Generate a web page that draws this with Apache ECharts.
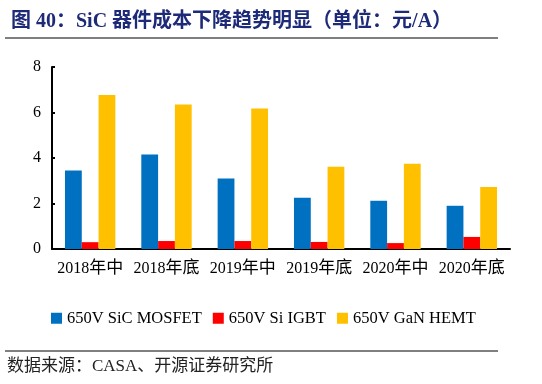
<!DOCTYPE html>
<html><head><meta charset="utf-8">
<script src="https://cdn.jsdelivr.net/npm/echarts@6/dist/echarts.min.js"></script>
<style>html,body{margin:0;padding:0;background:#fff}#c{width:542px;height:384px}</style>
</head><body><div id="c"></div>
<script>
var categories = ['2018年中','2018年底','2019年中','2019年底','2020年中','2020年底'];
var sicMosfet = [3.45, 4.15, 3.1, 2.25, 2.12, 1.9];
var siIgbt = [0.3, 0.35, 0.35, 0.31, 0.26, 0.53];
var ganHemt = [6.77, 6.35, 6.18, 3.62, 3.75, 2.73];
var seriesNames = ['650V SiC MOSFET','650V Si IGBT','650V GaN HEMT'];
var yTicks = [0, 2, 4, 6, 8];

var serif = '"Liberation Serif","Times New Roman","Noto Sans CJK SC",serif';
var chart = echarts.init(document.getElementById('c'));
function bar(name, data, color){
  return {name:name, type:'bar', data:data, barGap:'0%', barCategoryGap:'34%',
    itemStyle:{color:color}};
}
chart.setOption({
  animation:false,
  title:{text:'图 40：SiC 器件成本下降趋势明显（单位：元/A）', left:6, top:7,
    textStyle:{fontFamily:serif, fontWeight:'bold', fontSize:20, color:'#1d2a78'}},
  graphic:[
    {type:'line', shape:{x1:5,y1:38,x2:498,y2:38}, style:{stroke:'#000',lineWidth:1}},
    {type:'line', shape:{x1:5,y1:351,x2:498,y2:351}, style:{stroke:'#000',lineWidth:1}},
    {type:'text', left:7, top:358, style:{text:'数据来源：CASA、开源证券研究所', font:'17px '+serif, fill:'#222'}}
  ],
  legend:{data:seriesNames, left:46, top:305, itemWidth:11, itemHeight:11, itemGap:11,
    icon:'rect', textStyle:{fontFamily:serif, fontSize:16.5, color:'#000'}},
  grid:{left:52, right:32, top:67, bottom:135},
  xAxis:{type:'category', data:categories,
    axisLine:{lineStyle:{color:'#000', width:2}},
    axisTick:{inside:true, length:6, lineStyle:{color:'#000', width:2}},
    axisLabel:{interval:0, margin:11,
      formatter:function(v){return '{a|'+v.slice(0,4)+'}{b|'+v.slice(4)+'}';},
      rich:{a:{fontFamily:serif, fontSize:16, color:'#000'}, b:{fontFamily:serif, fontSize:17, color:'#000'}}}},
  yAxis:{type:'value', min:yTicks[0], max:yTicks[yTicks.length-1], interval:2,
    splitLine:{show:false},
    axisLine:{show:true, lineStyle:{color:'#000', width:2}},
    axisTick:{show:true, inside:true, length:3, lineStyle:{color:'#000', width:2}},
    axisLabel:{fontFamily:serif, fontSize:16, color:'#000', margin:11}},
  series:[bar(seriesNames[0], sicMosfet, '#0070C0'), bar(seriesNames[1], siIgbt, '#FF0000'), bar(seriesNames[2], ganHemt, '#FFC000')]
});
</script></body></html>
